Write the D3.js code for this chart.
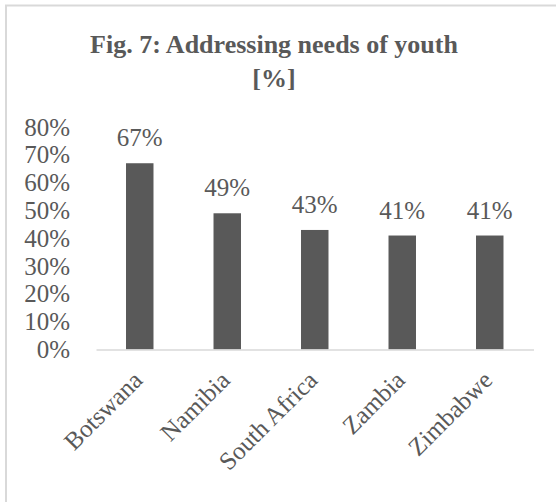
<!DOCTYPE html>
<html>
<head>
<meta charset="utf-8">
<script src="https://cdn.jsdelivr.net/npm/d3@7"></script>
<style>
  html, body { margin: 0; padding: 0; background: #fff; }
  svg { display: block; }
  text { font-family: "Liberation Serif", "Times New Roman", serif; fill: #595959; }
</style>
</head>
<body>
<svg id="chart" width="556" height="502"></svg>
<script>
// Share of respondents saying youth needs are addressed, by country
const countries = ["Botswana", "Namibia", "South Africa", "Zambia", "Zimbabwe"];
const shares = [0.67, 0.49, 0.43, 0.41, 0.41];
const yTicks = [0, 0.1, 0.2, 0.3, 0.4, 0.5, 0.6, 0.7, 0.8];
const titleLines = ["Fig. 7: Addressing needs of youth", "[%]"];

const svg = d3.select("#chart");
const ink = "#595959";
const pct = d3.format(".0%");
const labelSize = 25;

// Chart frame
svg.append("rect")
  .attr("x", 6).attr("y", 5.5)
  .attr("width", 560).attr("height", 510)
  .attr("fill", "#fff")
  .attr("stroke", "#d9d9d9").attr("stroke-width", 2);

// Title
svg.append("text")
  .attr("text-anchor", "middle")
  .attr("font-weight", "bold")
  .attr("font-size", 26)
  .selectAll("tspan")
  .data(titleLines)
  .join("tspan")
  .attr("x", 274)
  .attr("y", (d, i) => 53 + i * 34)
  .text(d => d);

// Scales
const x = d3.scaleBand()
  .domain(countries)
  .range([96, 533.5])
  .paddingInner(0.686)
  .paddingOuter(0.343);

const y = d3.scaleLinear()
  .domain([0, 0.8])
  .range([349.5, 127.1]);

// Y axis labels (no line, no ticks)
const yAxis = svg.append("g")
  .attr("transform", "translate(70,0)")
  .call(d3.axisLeft(y).tickValues(yTicks).tickFormat(pct).tickSize(0).tickPadding(0));
yAxis.select(".domain").remove();
yAxis.selectAll("text")
  .attr("font-size", labelSize)
  .attr("fill", ink)
  .attr("font-family", "Liberation Serif, serif");

// Bars
svg.append("g")
  .selectAll("rect")
  .data(shares)
  .join("rect")
  .attr("x", (d, i) => x(countries[i]))
  .attr("y", d => y(d))
  .attr("width", x.bandwidth())
  .attr("height", d => y(0) - y(d))
  .attr("fill", ink);

// Value labels
svg.append("g")
  .selectAll("text")
  .data(shares)
  .join("text")
  .attr("x", (d, i) => x(countries[i]) + x.bandwidth() / 2)
  .attr("y", d => y(d) - 17)
  .attr("text-anchor", "middle")
  .attr("font-size", labelSize)
  .text(d => pct(d));

// X axis baseline and rotated category labels
const xAxis = svg.append("g")
  .attr("transform", `translate(0,${y(0)})`)
  .call(d3.axisBottom(x).tickSize(0).tickPadding(0));
xAxis.select(".domain")
  .attr("stroke", "#d9d9d9")
  .attr("stroke-width", 1.5);
xAxis.selectAll(".tick text")
  .attr("font-size", labelSize)
  .attr("fill", ink)
  .attr("font-family", "Liberation Serif, serif")
  .attr("text-anchor", "end")
  .attr("dy", "0.35em")
  .attr("transform", "translate(-2,26) rotate(-45)");
</script>
</body>
</html>
